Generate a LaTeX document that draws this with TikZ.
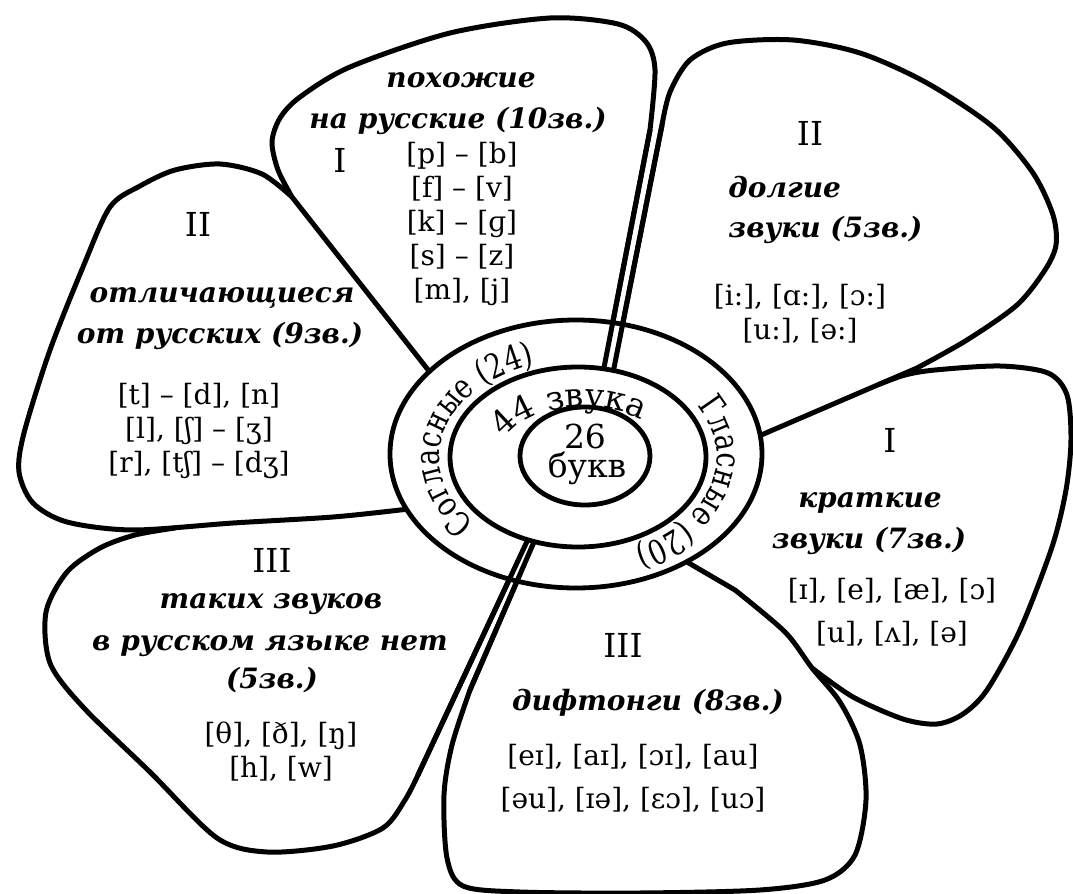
\documentclass[tikz,border=0pt]{standalone}
\usepackage{fontspec}
\setmainfont{DejaVu Serif}
\newfontfamily\ringfont[FakeStretch=0.8]{DejaVu Serif}
\usetikzlibrary{decorations.text}
\newcommand\ringfnt{\ringfont\fontsize{17}{17}\selectfont}
\newcommand\midfnt{\fontsize{16.5}{16.5}\selectfont}
\tikzset{
  petal/.style={line width=2.5pt, line join=round, line cap=round},
  ring/.style={line width=2.4pt, fill=white},
  ipa/.style={font=\fontsize{14}{17}\selectfont, align=center, inner sep=0pt},
  ipawide/.style={ipa, font=\fontsize{14}{21.5}\selectfont},
  lbl/.style={font=\fontsize{14}{20}\selectfont\bfseries\itshape, inner sep=0pt, anchor=base},
  num/.style={font=\fontsize{16.5}{16.5}\selectfont, inner sep=0pt},
}

\begin{document}
\begin{tikzpicture}[x=0.5pt, y=0.5pt]
  \useasboundingbox (0,0) rectangle (1073,-894);
  % petals
  \draw[petal] (602,-378) -- plot[smooth] coordinates {(650,-130) (655,-70) (646,-42) (618,-24)
    (550,-18) (450,-33) (350,-67) (300,-97) (280,-118) (272,-142) (278,-170) (292,-197)} -- (440,-385);
  \draw[petal] (612,-378) -- plot[smooth] coordinates {(662,-125) (670,-92) (690,-60) (727,-43)
    (793,-40) (860,-53) (927,-83) (993,-127) (1033,-173) (1053,-215) (1056,-245) (1045,-270)
    (1017,-305) (967,-340) (917,-368)} -- (745,-442);
  \draw[petal] plot[smooth] coordinates {(880,-384) (905,-375) (935,-370) (1000,-366) (1048,-373)
    (1067,-395) (1071,-440) (1066,-490) (1052,-547) (1020,-630) (987,-690) (963,-714) (937,-724)
    (903,-719) (853,-697) (812,-668)};
  \draw[petal] (537,-535) -- plot[smooth] coordinates {(470,-690) (452,-745) (444,-795) (447,-858)
    (463,-886) (520,-892) (640,-893) (760,-890) (825,-880) (855,-855) (866,-800) (860,-745)
    (840,-702) (812,-668) (785,-632) (735,-590)} -- (675,-555);
  \draw[petal] plot[smooth] coordinates {(175,-528) (135,-535) (100,-548) (67,-572) (46,-612)
    (50,-663) (83,-707) (150,-772) (217,-838) (267,-852) (333,-846) (383,-828)
    (405,-800) (418,-775)} -- (530,-535);
  \draw[petal] plot[smooth] coordinates {(292,-197) (262,-174) (220,-164) (175,-170) (140,-186)
    (110,-207) (83,-267) (50,-350) (24,-433) (19,-472) (33,-503) (67,-522) (133,-530) (233,-523)
    (333,-517) (400,-510)} -- (420,-508);
  % rings
  \filldraw[ring] (576,-454) ellipse [x radius=186, y radius=134];
  \draw[petal] (602,-378) -- (650,-130) (612,-378) -- (662,-125)
    (537,-535) -- (470,-690) (530,-535) -- (418,-775);
  \filldraw[ring] (578,-457) ellipse [x radius=128, y radius=90];
  \filldraw[ring] (585,-456) ellipse [x radius=65, y radius=49];
  \path[decorate, decoration={text along path, text align=center, text={|\ringfnt|Согласные (24)}}]
    (578,-457) ++(227:139 and 97) arc[start angle=227, end angle=104, x radius=139, y radius=97];
  \path[decorate, decoration={text along path, text align=center, text={|\ringfnt|Гласные (20)}}]
    (578,-457) ++(38:139 and 99) arc[start angle=38, end angle=-72, x radius=139, y radius=99];
  \path[decorate, decoration={text along path, text align=center, text={|\midfnt|44 звука}}]
    (584,-457) ++(168:86 and 50) arc[start angle=168, end angle=40, x radius=86, y radius=50];
  \node[font=\midfnt, inner sep=0pt, anchor=base] (n26) at (585,-448) {26};
  \node[font=\midfnt, inner sep=0pt, anchor=base] (nbukv) at (587,-477) {букв};
  % consonants
  \node[num] (c1) at (340,-160) {I};
  \node[lbl] (c1a) at (461,-87) {похожие};
  \node[lbl] (c1b) at (458,-128) {на русские (10зв.)};
  \node[ipa] (c1s) at (462,-224) {[p] – [b]\\{}[f] – [v]\\{}[k] – [ɡ]\\{}[s] – [z]\\{}[m], [j]};
  \node[num] (c2) at (198,-224) {II};
  \node[lbl] (c2a) at (222,-302) {отличающиеся};
  \node[lbl] (c2b) at (220,-343) {от русских (9зв.)};
  \node[ipa] (c2s) at (199,-431) {[t] – [d], [n]\\{}[l], [ʃ] – [ʒ]\\{}[r], [tʃ] – [dʒ]};
  \node[num] (c3) at (272,-560) {III};
  \node[lbl] (c3a) at (271,-608) {таких звуков};
  \node[lbl] (c3b) at (270,-650) {в русском языке нет};
  \node[lbl] (c3c) at (272,-688) {(5зв.)};
  \node[ipa] (c3s) at (281,-752) {[θ], [ð], [ŋ]\\{}[h], [w]};
  % vowels
  \node[num] (v2) at (810,-133) {II};
  \node[lbl, anchor=base west] (v2a) at (728,-197) {долгие};
  \node[lbl, anchor=base west] (v2b) at (728,-237) {звуки (5зв.)};
  \node[ipa] (v2s) at (800,-314) {[i:], [ɑ:], [ɔ:]\\{}[u:], [ə:]};
  \node[num] (v1) at (890,-440) {I};
  \node[lbl] (v1a) at (870,-507) {краткие};
  \node[lbl] (v1b) at (869,-548) {звуки (7зв.)};
  \node[ipawide] (v1s) at (892,-612) {[ɪ], [e], [æ], [ɔ]\\{}[u], [ʌ], [ə]};
  \node[num] (v3) at (623,-645) {III};
  \node[lbl] (v3a) at (648,-710) {дифтонги (8зв.)};
  \node[ipawide] (v3s) at (633,-778) {[eɪ], [aɪ], [ɔɪ], [au]\\{}[əu], [ɪə], [ɛɔ], [uɔ]};
\end{tikzpicture}
\end{document}
